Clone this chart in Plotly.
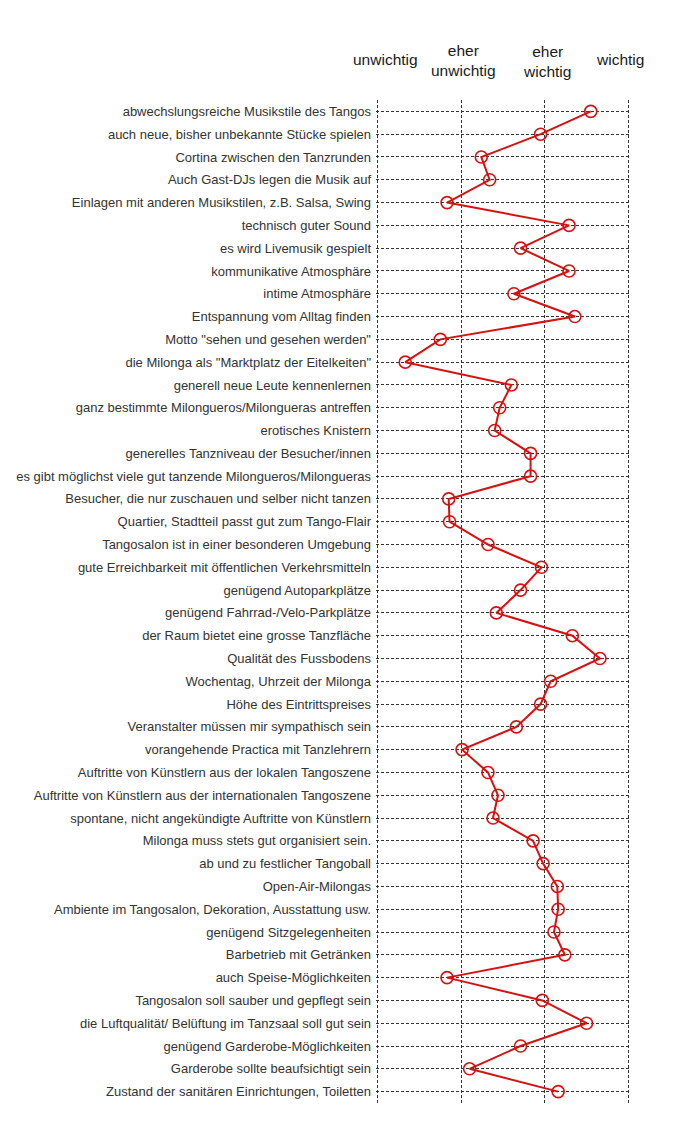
import plotly.graph_objects as go

# Kriterien (von oben nach unten)
kriterien = [
    "abwechslungsreiche Musikstile des Tangos",
    "auch neue, bisher unbekannte Stücke spielen",
    "Cortina zwischen den Tanzrunden",
    "Auch Gast-DJs legen die Musik auf",
    "Einlagen mit anderen Musikstilen, z.B. Salsa, Swing",
    "technisch guter Sound",
    "es wird Livemusik gespielt",
    "kommunikative Atmosphäre",
    "intime Atmosphäre",
    "Entspannung vom Alltag finden",
    "Motto \"sehen und gesehen werden\"",
    "die Milonga als \"Marktplatz der Eitelkeiten\"",
    "generell neue Leute kennenlernen",
    "ganz bestimmte Milongueros/Milongueras antreffen",
    "erotisches Knistern",
    "generelles Tanzniveau der Besucher/innen",
    "es gibt möglichst viele gut tanzende Milongueros/Milongueras",
    "Besucher, die nur zuschauen und selber nicht tanzen",
    "Quartier, Stadtteil passt gut zum Tango-Flair",
    "Tangosalon ist in einer besonderen Umgebung",
    "gute Erreichbarkeit mit öffentlichen Verkehrsmitteln",
    "genügend Autoparkplätze",
    "genügend Fahrrad-/Velo-Parkplätze",
    "der Raum bietet eine grosse Tanzfläche",
    "Qualität des Fussbodens",
    "Wochentag, Uhrzeit der Milonga",
    "Höhe des Eintrittspreises",
    "Veranstalter müssen mir sympathisch sein",
    "vorangehende Practica mit Tanzlehrern",
    "Auftritte von Künstlern aus der lokalen Tangoszene",
    "Auftritte von Künstlern aus der internationalen Tangoszene",
    "spontane, nicht angekündigte Auftritte von Künstlern",
    "Milonga muss stets gut organisiert sein.",
    "ab und zu festlicher Tangoball",
    "Open-Air-Milongas",
    "Ambiente im Tangosalon, Dekoration, Ausstattung usw.",
    "genügend Sitzgelegenheiten",
    "Barbetrieb mit Getränken",
    "auch Speise-Möglichkeiten",
    "Tangosalon soll sauber und gepflegt sein",
    "die Luftqualität/ Belüftung im Tanzsaal soll gut sein",
    "genügend Garderobe-Möglichkeiten",
    "Garderobe sollte beaufsichtigt sein",
    "Zustand der sanitären Einrichtungen, Toiletten",
]

# Mittelwerte (1 = unwichtig ... 4 = wichtig)
mittelwerte = [
    3.55, 2.95, 2.24, 2.34, 1.83, 3.29, 2.71, 3.29, 2.63, 3.36,
    1.75, 1.33, 2.60, 2.46, 2.40, 2.83, 2.83, 1.85, 1.86, 2.32,
    2.96, 2.71, 2.42, 3.33, 3.66, 3.07, 2.95, 2.66, 2.01, 2.32,
    2.44, 2.38, 2.86, 2.98, 3.15, 3.16, 3.11, 3.24, 1.83, 2.97,
    3.50, 2.71, 2.10, 3.16,
]

skala_werte = [1, 2, 3, 4]
skala_texte = ["unwichtig", "eher<br>unwichtig", "eher<br>wichtig", "wichtig"]
skala_dx = [8, 2, 2, -8]
skala_dy = [41, 40, 39, 41]

ROT = "#d81010"
SCHRIFT = "Liberation Sans, Arial"

fig = go.Figure()
fig.add_trace(go.Scatter(
    x=mittelwerte,
    y=kriterien,
    mode="lines+markers",
    line=dict(color=ROT, width=2),
    marker=dict(symbol="circle-open", size=12, color=ROT, line=dict(width=1.6, color=ROT)),
    showlegend=False,
    cliponaxis=False,
))

# Skalen-Beschriftung oben
for wert, text, dx, dy in zip(skala_werte, skala_texte, skala_dx, skala_dy):
    fig.add_annotation(
        x=wert, y=1, xref="x", yref="paper",
        text=text, showarrow=False,
        xanchor="center", yanchor="middle",
        xshift=dx, yshift=dy,
        font=dict(family=SCHRIFT, size=15.5, color="#1a1a1a"),
    )

# die Seite hat 8px Rand -> Figur etwas kleiner
fig.update_layout(
    width=692, height=1129,
    margin=dict(l=368, r=70, t=92, b=34, autoexpand=False),
    plot_bgcolor="white",
    paper_bgcolor="white",
    font=dict(family=SCHRIFT, size=13, color="#333"),
)
# Bereich etwas breiter, damit die Gitterlinien bei 1 und 4 sichtbar bleiben
fig.update_xaxes(
    range=[0.98, 4.02],
    tickvals=skala_werte,
    showticklabels=False,
    showgrid=True, gridcolor="#333", gridwidth=1, griddash="3px,2px",
    zeroline=False, showline=False, ticks="", automargin=False,
)
fig.update_yaxes(
    categoryorder="array", categoryarray=kriterien,
    range=[43.5, -0.5],
    showgrid=True, gridcolor="#333", gridwidth=1, griddash="3px,2px",
    zeroline=False, showline=False, ticks="", ticklabelstandoff=4,
    automargin=False,
    tickfont=dict(family=SCHRIFT, size=13, color="#333"),
)

fig.write_html("out.html")
